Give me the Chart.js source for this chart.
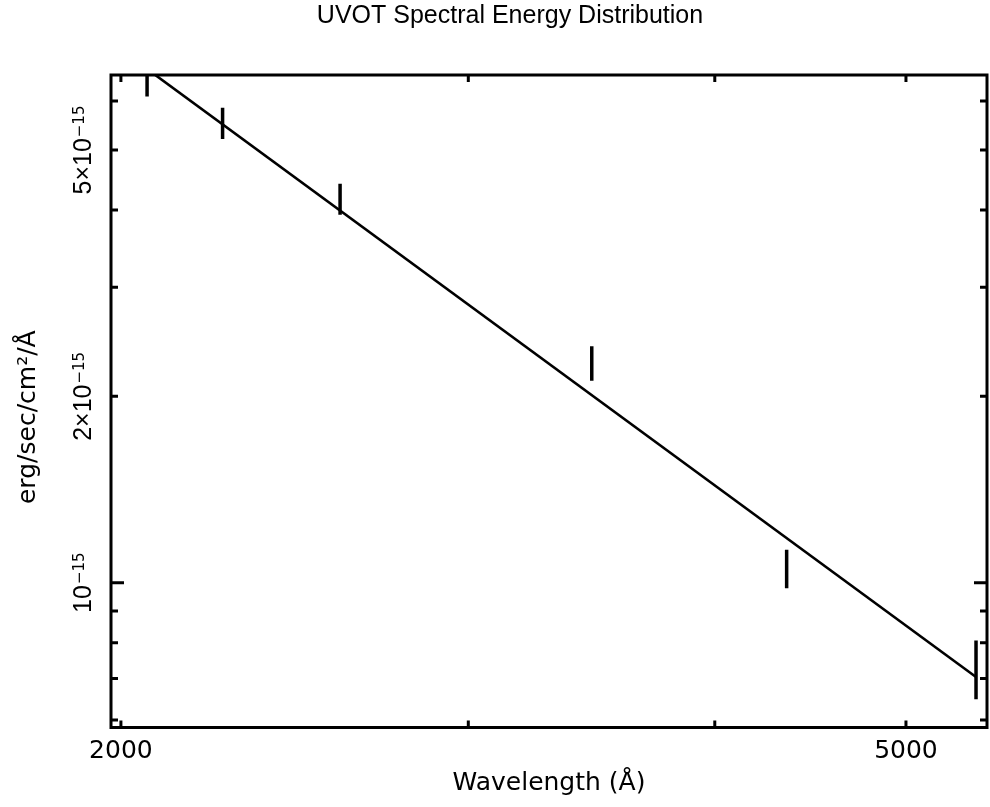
<!DOCTYPE html>
<html><head><meta charset="utf-8">
<script src="https://cdn.jsdelivr.net/npm/chart.js@4.4.1/dist/chart.umd.min.js"></script>
<style>html,body{margin:0;padding:0;background:#fff}#wrap{width:990px;height:807px;position:relative}</style>
</head><body><div id="wrap"><canvas id="c"></canvas></div>
<script>
// ---- data ----
const wavelengths = [2062, 2252, 2583, 3465, 4350, 5426];
const fluxLow  = [6.10e-15, 5.21e-15, 3.93e-15, 2.12e-15, 9.79e-16, 6.48e-16];
const fluxHigh = [6.83e-15, 5.85e-15, 4.41e-15, 2.41e-15, 1.13e-15, 8.06e-16];
const fitWavelengths = [2062, 5426];
const fitFlux = [6.76e-15, 7.04e-16];
const xTickValues = [2000, 3000, 4000, 5000];
const xTickLabels = ['2000', '', '', '5000'];
const yTickValues = [6e-16, 7e-16, 8e-16, 9e-16, 1e-15, 2e-15, 3e-15, 4e-15, 5e-15, 6e-15];
const yMajorTicks = [1e-15];
const yLabelValues = [1e-15, 2e-15, 5e-15];
const yLabelMain = ['10', '2×10', '5×10'];
const yLabelExp = ['−15', '−15', '−15'];

const datasets = wavelengths.map((w, i) => ({
  label: 'err' + i,
  data: [{x: w, y: fluxLow[i]}, {x: w, y: fluxHigh[i]}],
  showLine: true, borderColor: '#000', borderWidth: 3.5, pointRadius: 0,
  borderCapStyle: 'butt', clip: 0
}));
datasets.push({
  label: 'fit',
  data: fitWavelengths.map((w, i) => ({x: w, y: fitFlux[i]})),
  showLine: true, borderColor: '#000', borderWidth: 2.6, pointRadius: 0, clip: 0
});

const framePlugin = {
  id: 'frame',
  afterDraw(chart) {
    const {ctx, chartArea: a, scales: {x, y}} = chart;
    ctx.save();
    ctx.strokeStyle = '#000';
    ctx.lineWidth = 3;
    ctx.strokeRect(a.left, a.top, a.right - a.left, a.bottom - a.top);
    ctx.beginPath();
    xTickValues.forEach(v => {
      const px = x.getPixelForValue(v);
      ctx.moveTo(px, a.bottom); ctx.lineTo(px, a.bottom - 7);
      ctx.moveTo(px, a.top); ctx.lineTo(px, a.top + 7);
    });
    yTickValues.forEach(v => {
      const py = y.getPixelForValue(v);
      const len = yMajorTicks.includes(v) ? 13 : 7;
      ctx.moveTo(a.left, py); ctx.lineTo(a.left + len, py);
      ctx.moveTo(a.right, py); ctx.lineTo(a.right - len, py);
    });
    ctx.stroke();
    ctx.fillStyle = '#000';
    ctx.textBaseline = 'alphabetic';
    ctx.textAlign = 'left';
    const mainFont = '25px "Liberation Sans"';
    const expFont = '15px "DejaVu Sans"';
    yLabelValues.forEach((v, i) => {
      const py = y.getPixelForValue(v);
      ctx.font = mainFont;
      const wM = ctx.measureText(yLabelMain[i]).width;
      ctx.font = expFont;
      const wS = ctx.measureText(yLabelExp[i]).width;
      const gap = 1;
      const total = wM + gap + wS;
      ctx.save();
      ctx.translate(91, py);
      ctx.rotate(-Math.PI / 2);
      ctx.font = mainFont;
      ctx.fillText(yLabelMain[i], -total / 2, 0);
      ctx.font = expFont;
      ctx.fillText(yLabelExp[i], -total / 2 + wM + gap, -7.5);
      ctx.restore();
    });
    ctx.restore();
  }
};

new Chart(document.getElementById('c'), {
  type: 'scatter',
  data: {datasets},
  plugins: [framePlugin],
  options: {
    responsive: true, maintainAspectRatio: false, animation: false, events: [],
    layout: {padding: {left: 33, right: 3, top: 0, bottom: 0}},
    plugins: {
      legend: {display: false}, tooltip: {enabled: false},
      title: {display: true, text: 'UVOT Spectral Energy Distribution', color: '#000',
        font: {family: '"Liberation Sans", Arial, sans-serif', size: 25, weight: 'normal', lineHeight: 1.2},
        padding: {top: 1.6, bottom: 43.4}}
    },
    scales: {
      x: {
        type: 'logarithmic', position: 'bottom', min: 1977, max: 5496,
        grid: {display: false, drawTicks: false}, border: {display: false},
        afterBuildTicks: s => { s.ticks = xTickValues.map(v => ({value: v})); },
        afterFit: s => { s.height = 79.5; },
        ticks: {autoSkip: false, maxRotation: 0, minRotation: 0, padding: 9, color: '#000',
          font: {family: '"DejaVu Sans", sans-serif', size: 25, lineHeight: 1.2},
          callback: v => { const i = xTickValues.indexOf(v); return i >= 0 ? xTickLabels[i] : ''; }},
        title: {display: true, text: 'Wavelength (Å)', color: '#000',
          font: {family: '"DejaVu Sans", sans-serif', size: 25, lineHeight: 1.2},
          padding: {top: 0, bottom: 8.5}}
      },
      y: {
        type: 'logarithmic', position: 'left', min: 5.834e-16, max: 6.61e-15,
        grid: {display: false, drawTicks: false}, border: {display: false},
        afterFit: s => { s.width = 78; },
        ticks: {display: false},
        title: {display: true, text: 'erg/sec/cm²/Å    ', color: '#000',
          font: {family: '"DejaVu Sans", sans-serif', size: 25, lineHeight: 1.2},
          padding: {top: -20, bottom: 0}}
      }
    }
  }
});
</script>
</body></html>
